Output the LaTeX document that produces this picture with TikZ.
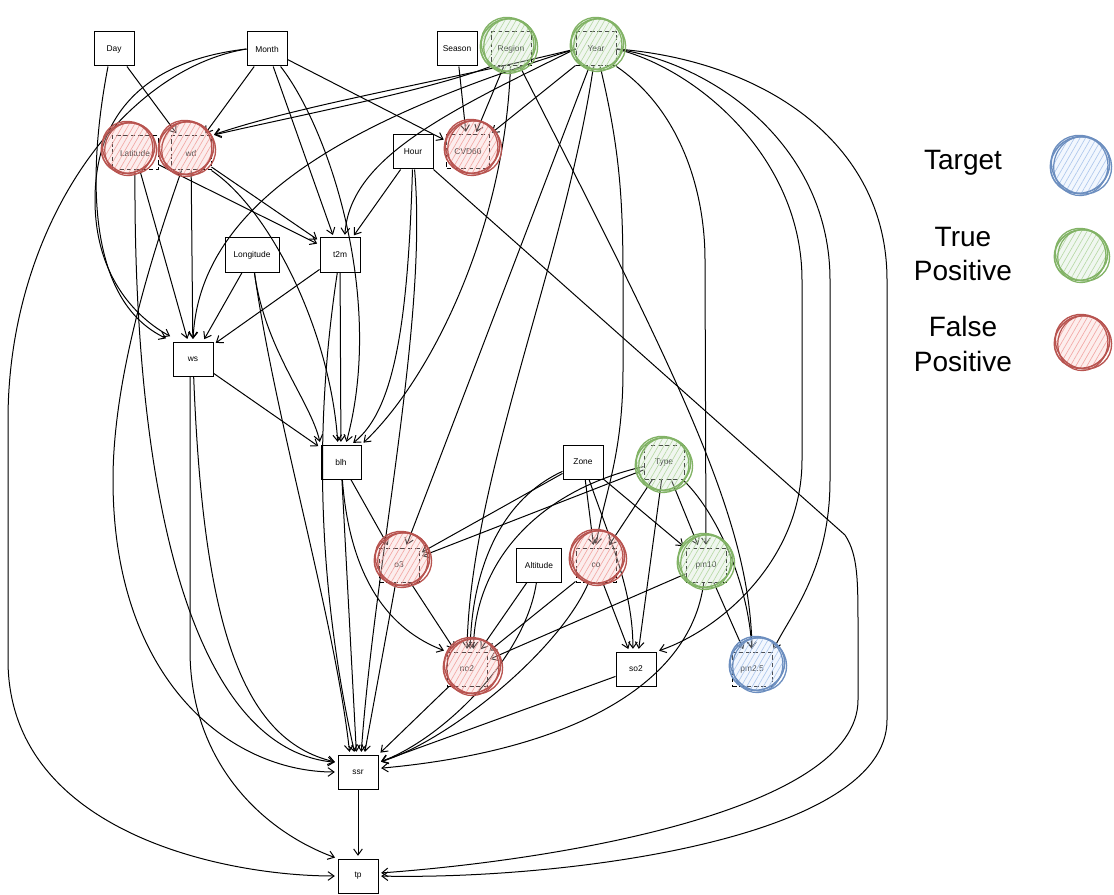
\documentclass[tikz,border=0pt]{standalone}
\usepackage{fontspec}
\setmainfont{Liberation Sans}
\usetikzlibrary{arrows.meta,calc,patterns.meta}
\definecolor{redS}{HTML}{B85450}
\definecolor{redH}{HTML}{F2A9A6}
\definecolor{redF}{HTML}{F8CECC}
\definecolor{greenS}{HTML}{82B366}
\definecolor{greenH}{HTML}{B9DAA8}
\definecolor{greenF}{HTML}{D5E8D4}
\definecolor{blueS}{HTML}{6C8EBF}
\definecolor{blueH}{HTML}{AFC8EC}
\definecolor{blueF}{HTML}{DAE8FC}
\tikzset{
  var/.style={draw=black, line width=0.75pt, minimum width=30pt, minimum height=25.5pt,
    inner sep=1pt, fill=white, font=\fontsize{6.3}{7.5}\selectfont},
  hl/.style={var, dash pattern=on 3.5pt off 2pt},
  edge/.style={line width=0.75pt, -{Straight Barb[length=4.5pt,width=6.5pt]}, shorten >=2pt},
  legend/.style={font=\fontsize{21}{26}\selectfont, align=center},
}
\newcommand\sketchmark[4]{%
  \fill[#4F, fill opacity=0.35] (#1,#2) circle[radius=#3-1];
  \fill[pattern={Lines[angle=60,distance=3.6pt,line width=0.5pt]}, pattern color=#4H]
    (#1,#2) circle[radius=#3-1];
  \draw[#4S, line width=1.2pt, rotate around={25:(#1,#2)}] (#1,#2) ellipse[x radius=#3, y radius=#3-2];
  \draw[#4S, line width=1pt, rotate around={-35:(#1,#2)}] ($(#1,#2)+(1,-1)$) ellipse[x radius=#3+1, y radius=#3-1.5];
  \draw[#4S, line width=0.9pt, rotate around={80:(#1,#2)}] ($(#1,#2)+(-1,1)$) ellipse[x radius=#3-0.5, y radius=#3-3];
}
\begin{document}
\begin{tikzpicture}[x=0.75pt, y=-0.75pt]
\useasboundingbox (0,0) rectangle (1114,895);

% nodes
\node[var] (Day) at (114,49) {Day};
\node[var] (Month) at (267,49) {Month};
\node[var] (Season) at (457,49) {Season};
\node[hl] (Region) at (511,49) {Region};
\node[hl] (Year) at (596,49) {Year};
\node[hl, minimum width=34.5pt] (Lat) at (135,153) {Latitude};
\node[hl] (wd) at (191,153) {wd};
\node[var] (Hour) at (413,152) {Hour};
\node[hl, minimum width=32pt] (CVD) at (468,152) {CVD60};
\node[var, minimum width=40.5pt] (Lon) at (252,255) {Longitude};
\node[var] (t2m) at (340,255) {t2m};
\node[var] (ws) at (193,359) {ws};
\node[var] (blh) at (341,462) {blh};
\node[var] (Zone) at (583,462) {Zone};
\node[hl] (Type) at (664,462) {Type};
\node[hl] (o3) at (399,565) {o3};
\node[var, minimum width=33.5pt] (Alt) at (539,565) {Altitude};
\node[hl] (co) at (596,565) {co};
\node[hl] (pm10) at (706,565) {pm10};
\node[hl] (no2) at (467,669) {no2};
\node[var] (so2) at (636,669) {so2};
\node[hl] (pm25) at (752,669) {pm2.5};
\node[var] (ssr) at (358,772) {ssr};
\node[var] (tp) at (358,876) {tp};

% Day
\draw[edge] (Day) -- (wd);
\draw[edge] ($(Day.south)+(-6,0)$) .. controls (88,170) and (85,300) .. ($(ws.north west)+(-4,-2)$);
% Month
\draw[edge] (Month) -- (wd);
\draw[edge] (Month) -- (CVD);
\draw[edge] (Month) -- (t2m);
\draw[edge] (Month) .. controls (330,130) and (385,300) .. (blh.75);
\draw[edge] (Month.west) .. controls (150,60) and (95,110) .. (95,200) .. controls (95,280) and (140,320) .. ($(ws.north west)+(0,-4)$);
\draw[edge] (Month.west) .. controls (120,70) and (8,230) .. (8,420) -- (8,660) .. controls (8,830) and (220,876) .. (tp.west);
% Season
\draw[edge] (Season) -- (CVD);
% Region
\draw[edge] (Region) -- (CVD);
\draw[edge] (Region.south west) .. controls (430,90) and (300,115) .. (wd.north east);
\draw[edge] (Region) .. controls (505,230) and (430,380) .. (blh.north east);
\draw[edge] (Region) .. controls (680,380) and (750,520) .. (pm25.north);
% Year
\draw[edge] (Year.west) .. controls (450,80) and (300,105) .. (wd.north east);
\draw[edge] (Year.west) .. controls (440,115) and (350,160) .. (t2m.75);
\draw[edge] (Year.west) .. controls (380,110) and (200,190) .. (ws.north);
\draw[edge] (Year) -- (CVD);
\draw[edge] (Year) -- (o3);
\draw[edge] (Year) .. controls (565,260) and (470,480) .. (no2.north);
\draw[edge] (Year) .. controls (620,150) and (623,200) .. (623,280) -- (623,370) .. controls (623,460) and (602,500) .. (co.north);
\draw[edge] (Year.south east) .. controls (680,110) and (705,190) .. (705,260) -- (pm10.north);
\draw[edge] (Year.east) .. controls (700,70) and (802,160) .. (802,280) -- (802,460) .. controls (802,560) and (720,630) .. (so2.north east);
\draw[edge] (Year.east) .. controls (720,65) and (830,150) .. (830,280) -- (830,480) .. controls (830,570) and (790,615) .. (pm25.north east);
\draw[edge] (Year.east) .. controls (760,60) and (887,140) .. (887,280) -- (887,720) .. controls (887,840) and (560,880) .. (tp.east);
% Hour
\draw[edge] (Hour) -- (t2m);
\draw[edge] (Hour) .. controls (408,320) and (395,410) .. (blh.60);
\draw[edge] (Hour) .. controls (428,320) and (375,560) .. (ssr.80);
\draw[edge] (Hour.south east) -- (845,535) .. controls (858,555) and (858,580) .. (858,630) -- (858,700) .. controls (858,810) and (560,860) .. (tp.8);
% Latitude
\draw[edge] (Lat) -- (ws);
\draw[edge] (Lat) -- (t2m);
\draw[edge] (Lat.south) .. controls (133,520) and (200,750) .. (ssr.155);
% wd
\draw[edge] (wd) -- (ws);
\draw[edge] (wd) -- (t2m);
\draw[edge] (wd.south east) .. controls (270,210) and (330,330) .. (blh.100);
\draw[edge] ($(wd.south west)+(11,0)$) .. controls (150,260) and (113,380) .. (113,480) .. controls (113,680) and (230,772) .. (ssr.west);
% Longitude
\draw[edge] (Lon) -- (ws);
\draw[edge] (Lon) .. controls (265,350) and (310,400) .. (blh.north west);
\draw[edge] (Lon) .. controls (275,420) and (335,620) .. (ssr.115);
% t2m
\draw[edge] (t2m) -- (ws);
\draw[edge] (t2m) -- (blh);
\draw[edge] (t2m) .. controls (318,400) and (312,560) .. (ssr.100);
% ws
\draw[edge] (ws) -- (blh);
\draw[edge] (ws) .. controls (203,620) and (240,740) .. (ssr.155);
\draw[edge] ($(ws.south)+(-3,0)$) -- (190,650) .. controls (190,760) and (260,830) .. (tp.north west);
% blh
\draw[edge] (blh) -- (o3);
\draw[edge] (blh) -- (ssr.95);
\draw[edge] (blh) .. controls (350,580) and (390,630) .. (no2.north west);
% Zone
\draw[edge] (Zone) -- (o3);
\draw[edge] (Zone) .. controls (500,500) and (472,570) .. (no2.80);
\draw[edge] (Zone) -- (co);
\draw[edge] (Zone) .. controls (610,540) and (633,590) .. (so2.100);
\draw[edge] (Zone) -- (pm10);
% Type
\draw[edge] (Type) -- (o3);
\draw[edge] (Type) .. controls (540,490) and (475,560) .. (no2.70);
\draw[edge] (Type) -- (co);
\draw[edge] (Type) -- (so2);
\draw[edge] (Type) -- (pm10);
\draw[edge] (Type) .. controls (715,510) and (748,580) .. (pm25.north);
% o3
\draw[edge] (o3) -- (no2);
\draw[edge] (o3) -- (ssr.70);
% Altitude
\draw[edge] (Alt) -- (no2);
\draw[edge] (Alt) .. controls (525,660) and (440,740) .. (ssr.25);
% co
\draw[edge] (co) -- (no2);
\draw[edge] (co) -- (so2);
\draw[edge] (co) .. controls (560,650) and (450,740) .. (ssr.25);
% pm10
\draw[edge] (pm10) -- (no2);
\draw[edge] (pm10) -- (pm25);
\draw[edge] (pm10) .. controls (690,690) and (560,752) .. (ssr.10);
% so2, no2, ssr
\draw[edge] (so2) -- (ssr.25);
\draw[edge] (no2) -- (ssr.north east);
\draw[edge] (ssr) -- (tp);

% sketch highlights
\sketchmark{128}{148}{27}{red}
\sketchmark{186}{148}{28}{red}
\sketchmark{508}{45}{28}{green}
\sketchmark{597}{44}{27}{green}
\sketchmark{472}{147}{28}{red}
\sketchmark{402}{559}{28}{red}
\sketchmark{597}{557}{28}{red}
\sketchmark{663}{464}{28}{green}
\sketchmark{705}{561}{28}{green}
\sketchmark{472}{666}{29}{red}
\sketchmark{757}{664}{28}{blue}

% legend
\node[legend] (lgT) at (963,163) {Target};
\node[legend] (lgTP) at (963,254) {True\\Positive};
\node[legend] (lgFP) at (963,344) {False\\Positive};
\sketchmark{1080}{165}{30}{blue}
\sketchmark{1081}{255}{27}{green}
\sketchmark{1082}{342}{28}{red}
\end{tikzpicture}
\end{document}
